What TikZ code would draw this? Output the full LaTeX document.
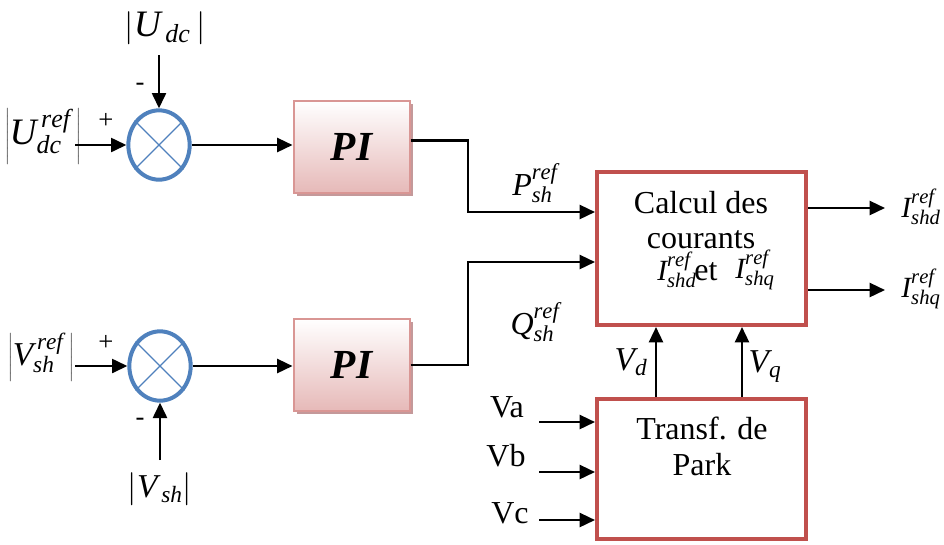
\documentclass[tikz,border=0pt]{standalone}
\usepackage{fontspec}
\setmainfont{Liberation Serif}
\usetikzlibrary{shapes.geometric,arrows.meta,shadows}
\definecolor{sumblue}{HTML}{4F81BD}
\definecolor{boxred}{HTML}{C0504D}
\definecolor{pinkline}{HTML}{D99694}
\definecolor{pinkfill}{HTML}{E6B9B8}
\definecolor{pinkshadow}{HTML}{C4999A}
\DeclareMathSizes{22}{22}{15.5}{12}
\DeclareMathSizes{24}{24}{17}{13}
\DeclareMathSizes{25}{25}{17.5}{13}
\DeclareMathSizes{28}{28}{19.5}{14}
\newcommand{\mi}[1]{\mathit{#1}}
\newcommand{\fsz}[1]{\fontsize{#1}{#1}\selectfont}
\begin{document}
\begin{tikzpicture}[x=0.75pt,y=-0.75pt,
 sig/.style={line width=1.8pt,-{Triangle[length=11.5pt,width=10.5pt]}},
 sumnode/.style={draw=sumblue,line width=3pt,ellipse,minimum width=46pt,minimum height=52pt,inner sep=0pt,fill=white},
 pibox/.style={draw=pinkline,line width=1.5pt,top color=white,bottom color=pinkfill,minimum width=87pt,minimum height=69pt,inner sep=0pt,font=\fsz{31pt}\bfseries\itshape,
   drop shadow={opacity=1,fill=pinkshadow,shadow xshift=2.5pt,shadow yshift=-2.5pt}},
 redbox/.style={draw=boxred,line width=3pt,inner sep=0pt,minimum width=156.75pt},
 lbl/.style={inner sep=0pt,font=\fsz{24pt}},
 sgn/.style={inner sep=0pt,font=\fsz{20pt}},
]
\useasboundingbox (0,0) rectangle (944,544);

% summing junctions
\node[sumnode] (s1) at (159,145) {};
\node[sumnode] (s2) at (160,366) {};
\draw[sumblue,line width=1pt] (s1.135) -- (s1.-45) (s1.45) -- (s1.-135);
\draw[sumblue,line width=1pt] (s2.135) -- (s2.-45) (s2.45) -- (s2.-135);

% PI blocks
\node[pibox] (pi1) at (351.5,147) {PI};
\node[pibox] (pi2) at (351.5,365) {PI};

% main blocks
\node[redbox,minimum height=114.75pt] (calc) at (701.5,248.5) {};
\node[redbox,minimum height=105pt] (park) at (701.5,469) {};

% texts in blocks
\node[lbl] (t1) at (701,203) {Calcul des};
\node[lbl] (t2) at (701,240) {courants};
\node[inner sep=0pt,font=\fsz{22pt}] (t3) at (677,270) {$\mi{I}_{\mi{shd}}^{\mi{ref}}$};
\node[inner sep=0pt,font=\fsz{24pt}] (t4) at (706,272) {et};
\node[inner sep=0pt,font=\fsz{22pt}] (t5) at (755,270) {$\mi{I}_{\mi{shq}}^{\mi{ref}}$};
\node[lbl] (t6) at (702,428) {Transf. de};
\node[lbl] (t7) at (702,465) {Park};

% input labels
\node[inner sep=0pt,font=\fsz{28pt}] (ludc) at (165,28) {$\left|\mi{U}_{\,\mi{dc}}\,\right|$};
\node[inner sep=0pt,font=\fsz{28pt}] (luref) at (43,136) {$\left|\mi{U}_{\mi{dc}}^{\,\mi{ref}}\,\right|$};
\node[inner sep=0pt,font=\fsz{25pt}] (lvref) at (41,357) {$\left|\mi{V}_{\mi{sh}}^{\,\mi{ref}}\,\right|$};
\node[inner sep=0pt,font=\fsz{25pt}] (lvsh) at (160,489) {$\left|\mi{V}_{\,\mi{sh}}\right|$};
\node[sgn] (p1) at (106,121) {+};
\node[sgn] (m1) at (140,87) {-};
\node[sgn] (p2) at (106,343) {+};
\node[sgn] (m2) at (140,422) {-};

% connectors to summing junctions
\coordinate (a1) at (75,145);
\coordinate (a2) at (159,55);
\coordinate (a3) at (75,366);
\coordinate (a4) at (160,460);
\draw[sig] (a1) -- (s1.west);
\draw[sig] (a2) -- (s1.north);
\draw[sig] (a3) -- (s2.west);
\draw[sig] (a4) -- (s2.south);
\draw[sig] (s1.east) -- (s1.east -| pi1.west);
\draw[sig] (s2.east) -- (s2.east -| pi2.west);

% PI outputs
\coordinate (j1) at (468,212);
\coordinate (j2) at (468,262);
\draw[sig] ([yshift=5pt]pi1.east) -| (j1) -- (j1 -| calc.west);
\draw[sig] (pi2.east) -| (j2) -- (j2 -| calc.west);
\node[inner sep=0pt,font=\fsz{24pt}] (lp) at (535,183) {$\mi{P}_{\mi{sh}}^{\mi{ref}}$};
\node[inner sep=0pt,font=\fsz{24pt}] (lq) at (535,322) {$\mi{Q}_{\mi{sh}}^{\mi{ref}}$};

% outputs
\coordinate (o1) at (885,208);
\coordinate (o2) at (885,290);
\draw[sig] (o1 -| calc.east) -- (o1);
\draw[sig] (o2 -| calc.east) -- (o2);
\node[inner sep=0pt,font=\fsz{22pt}] (lo1) at (921,207) {$\mi{I}_{\mi{shd}}^{\mi{ref}}$};
\node[inner sep=0pt,font=\fsz{22pt}] (lo2) at (921,289) {$\mi{I}_{\mi{shq}}^{\mi{ref}}$};

% Park to calc
\coordinate (xd) at (656,0);
\coordinate (xq) at (742,0);
\draw[sig] (xd |- park.north) -- (xd |- calc.south);
\draw[sig] (xq |- park.north) -- (xq |- calc.south);
\node[inner sep=0pt,font=\fsz{25pt}] (lvd) at (631,362) {$\mi{V}_{\mi{d}}$};
\node[inner sep=0pt,font=\fsz{25pt}] (lvq) at (765,367) {$\mi{V}_{\mi{q}}$};

% Park inputs
\coordinate (va) at (539,422);
\coordinate (vb) at (539,472);
\coordinate (vc) at (539,520);
\draw[sig] (va) -- (va -| park.west);
\draw[sig] (vb) -- (vb -| park.west);
\draw[sig] (vc) -- (vc -| park.west);
\node[lbl] (lva) at (507,407) {Va};
\node[lbl] (lvb) at (506,456) {Vb};
\node[lbl] (lvc) at (510,513) {Vc};
\end{tikzpicture}
\end{document}
